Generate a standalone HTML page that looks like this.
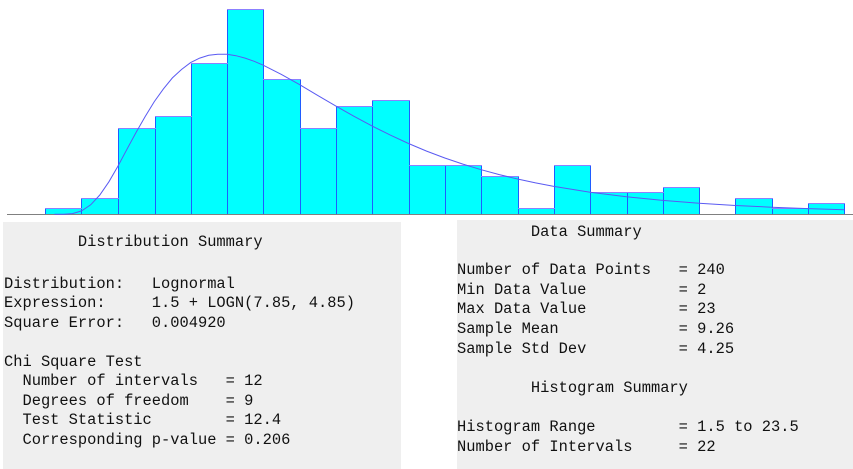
<!DOCTYPE html>
<html>
<head>
<meta charset="utf-8">
<style>
  html, body { margin: 0; padding: 0; }
  body { width: 853px; height: 469px; overflow: hidden; background: #ffffff; position: relative; }
  svg { position: absolute; left: 0; top: 0; }
  .panel { position: absolute; background: #efefef; }
  .t { position: absolute; margin: 0; white-space: pre; font-family: "Liberation Mono", "DejaVu Sans Mono", monospace; font-size: 15.4px; color: #111111; }
  .l1 { line-height: 19.5px; }
  .l2 { line-height: 19.6px; }
</style>
</head>
<body>
<div class="panel" style="left:3px; top:222px; width:398px; height:247px;"></div>
<div class="panel" style="left:457px; top:220px; width:396px; height:249px;"></div>

<svg width="853" height="469" viewBox="0 0 853 469" xmlns="http://www.w3.org/2000/svg">
  <g fill="#00ffff" stroke="none">
    <rect x="45" y="208" width="37" height="6"/>
    <rect x="81" y="198" width="38" height="16"/>
    <rect x="118" y="128" width="38" height="86"/>
    <rect x="155" y="116" width="37" height="98"/>
    <rect x="191" y="63" width="37" height="151"/>
    <rect x="227" y="9" width="37" height="205"/>
    <rect x="263" y="79" width="38" height="135"/>
    <rect x="300" y="128" width="37" height="86"/>
    <rect x="336" y="106" width="37" height="108"/>
    <rect x="372" y="100" width="38" height="114"/>
    <rect x="409" y="165" width="37" height="49"/>
    <rect x="445" y="165" width="37" height="49"/>
    <rect x="481" y="176" width="38" height="38"/>
    <rect x="518" y="208" width="37" height="6"/>
    <rect x="554" y="165" width="37" height="49"/>
    <rect x="590" y="192" width="38" height="22"/>
    <rect x="627" y="192" width="37" height="22"/>
    <rect x="663" y="187" width="37" height="27"/>
    <rect x="735" y="198" width="38" height="16"/>
    <rect x="772" y="208" width="37" height="6"/>
    <rect x="808" y="203" width="37" height="11"/>
  </g>
  <g stroke="#1f5cff" stroke-width="1" shape-rendering="crispEdges">
    <path d="M45.5 208V214 M81.5 198V214 M118.5 128V214 M155.5 116V214 M191.5 63V214 M227.5 9V214 M263.5 9V214 M300.5 79V214 M336.5 106V214 M372.5 100V214 M409.5 100V214 M445.5 165V214 M481.5 165V214 M518.5 176V214 M554.5 165V214 M590.5 165V214 M627.5 192V214 M663.5 187V214 M699.5 187V214 M735.5 198V214 M772.5 198V214 M808.5 203V214 M844.5 203V214"/>
  </g>
  <g stroke="#8c80ff" stroke-width="1" shape-rendering="crispEdges">
    <path d="M45 208.5H82 M81 198.5H119 M118 128.5H156 M155 116.5H192 M191 63.5H228 M227 9.5H264 M263 79.5H301 M300 128.5H337 M336 106.5H373 M372 100.5H410 M409 165.5H446 M445 165.5H482 M481 176.5H519 M518 208.5H555 M554 165.5H591 M590 192.5H628 M627 192.5H664 M663 187.5H700 M735 198.5H773 M772 208.5H809 M808 203.5H845"/>
  </g>
  <line x1="7" y1="214.5" x2="853" y2="214.5" stroke="#808080" stroke-width="1" shape-rendering="crispEdges"/>
  <polyline fill="none" stroke="#5a5af2" stroke-width="1"
    points="54.4,214.3 63.5,214.2 72.5,213.6 81.6,210.9 90.7,204.8 99.8,195.0 108.9,181.8 117.9,166.2 127.0,149.2 136.1,132.4 145.2,116.5 154.3,101.6 163.4,88.9 172.4,77.9 181.5,69.5 190.6,62.6 199.7,58.1 208.7,55.3 217.8,54.2 226.9,54.3 236.0,55.7 245.1,58.1 254.2,61.3 263.2,65.2 281.4,74.4 299.5,84.6 317.7,95.4 335.9,106.1 354.0,116.3 372.2,126.1 390.3,135.1 408.5,143.5 426.6,151.1 444.8,158.0 462.9,164.1 481.1,169.7 499.3,174.6 517.5,179.0 535.6,182.9 553.8,186.4 590.1,192.3 626.4,196.8 662.7,200.4 699.1,203.2 735.4,205.5 771.7,207.2 808.0,208.6 844.3,209.7"/>
</svg>

<div class="t l1" style="left:4px; top:233px;">        Distribution Summary</div>
<div class="t l1" style="left:4px; top:274.7px;">Distribution:   Lognormal
Expression:     1.5 + LOGN(7.85, 4.85)
Square Error:   0.004920

Chi Square Test
  Number of intervals   = 12
  Degrees of freedom    = 9
  Test Statistic        = 12.4
  Corresponding p-value = 0.206</div>

<div class="t l2" style="left:457px; top:222.5px;">        Data Summary</div>
<div class="t l2" style="left:457px; top:261.2px;">Number of Data Points   = 240
Min Data Value          = 2
Max Data Value          = 23
Sample Mean             = 9.26
Sample Std Dev          = 4.25

        Histogram Summary

Histogram Range         = 1.5 to 23.5
Number of Intervals     = 22</div>
</body>
</html>
